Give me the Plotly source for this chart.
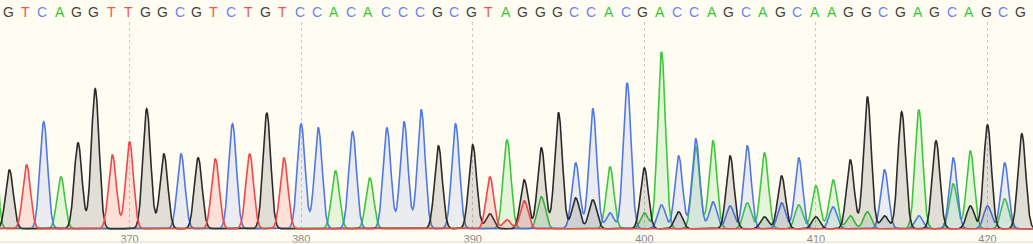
import numpy as np
import plotly.graph_objects as go

# Base positions and called bases (positions 363-422)
positions = list(range(362, 423))
bases = list("GTCAGGTTGGCGTCTGTCCACACCCGCGTAGGGCCACGACCAGCAGCAAGGCGAGCAGCG")
base_positions = list(range(363, 423))

# Peak heights per channel at each position 362..422
A_heights = [160, 0, 0, 0, 52, 0, 0, 0, 0, 0,        # 362-371
             0, 0, 0, 0, 0, 0, 0, 0, 0, 0,           # 372-381
             58, 0, 51, 0, 0, 0, 0, 0, 0, 0,         # 382-391
             89, 0, 32, 0, 0, 0, 62, 0, 16, 177,     # 392-401
             0, 82, 88, 0, 26, 76, 0, 24, 43, 49,    # 402-411
             13, 17, 0, 0, 119, 0, 45, 78, 0, 30,    # 412-421
             0]                                      # 422
C_heights = [0, 0, 0, 107, 0, 0, 0, 0, 0, 0,
             0, 75, 0, 0, 105, 0, 0, 0, 105, 101,
             0, 97, 0, 101, 107, 119, 0, 105, 0, 0,
             0, 0, 0, 0, 66, 120, 16, 146, 0, 24,
             73, 90, 27, 23, 83, 0, 26, 71, 0, 22,
             0, 0, 59, 0, 13, 0, 71, 0, 23, 66,
             0]
G_heights = [0, 59, 0, 0, 0, 86, 140, 0, 0, 120,
             75, 0, 71, 0, 0, 0, 116, 0, 0, 0,
             0, 0, 0, 0, 0, 0, 83, 0, 84, 15,
             0, 49, 81, 116, 31, 29, 0, 0, 61, 0,
             17, 0, 0, 73, 0, 12, 53, 0, 12, 0,
             69, 132, 13, 117, 0, 88, 0, 23, 104, 0,
             95]
T_heights = [0, 0, 64, 0, 0, 0, 0, 74, 87, 0,
             0, 0, 0, 70, 0, 75, 0, 71, 0, 0,
             0, 0, 0, 0, 0, 0, 0, 0, 0, 52,
             9, 28, 0, 0, 0, 0, 0, 0, 0, 0,
             0, 0, 0, 0, 0, 0, 0, 0, 0, 0,
             0, 0, 0, 0, 0, 0, 0, 0, 0, 0,
             0]

tick_values = [370, 380, 390, 400, 410, 420]

channels = [
    ("A", A_heights, "#3cc83c", "rgba(60,200,60,0.13)"),
    ("C", C_heights, "#5078e6", "rgba(80,120,230,0.12)"),
    ("G", G_heights, "#2a2a2a", "rgba(40,40,40,0.14)"),
    ("T", T_heights, "#f04848", "rgba(240,72,72,0.15)"),
]
letter_colors = {"A": "#33c833", "C": "#6a86f0", "G": "#444444", "T": "#f05555"}

sigma = 0.225
xs = np.arange(361.5, 423.6, 0.01)

fig = go.Figure()
for name, heights, lc, fc in channels:
    pos = np.array(positions, dtype=float)
    h = np.array(heights, dtype=float)
    ys = (h[None, :] * np.exp(-0.5 * ((xs[:, None] - pos[None, :]) / sigma) ** 2)).sum(axis=1)
    fig.add_trace(go.Scatter(x=xs, y=ys, mode="lines", line=dict(color=lc, width=1.6),
                             fill="tozeroy", fillcolor=fc, hoverinfo="skip", showlegend=False))

annotations = []
for p, b in zip(base_positions, bases):
    annotations.append(dict(x=p - 0.08, y=1.048, xref="x", yref="paper", text=b, showarrow=False,
                            font=dict(family="Liberation Sans, Arial, sans-serif", size=14,
                                      color=letter_colors[b]),
                            xanchor="center", yanchor="middle"))

fig.update_layout(
    width=1033, height=244,
    margin=dict(l=0, r=0, t=22, b=14),
    paper_bgcolor="#fffcf2", plot_bgcolor="#fffcf2",
    annotations=annotations,
    xaxis=dict(range=[362.45, 422.65], tickvals=tick_values, showgrid=True,
               gridcolor="#c8c8c8", griddash="dot", gridwidth=1, zeroline=False,
               showline=False, ticks="", tickfont=dict(family="Liberation Sans, Arial, sans-serif",
                                                       size=11, color="#888888"),
               ticklabelstandoff=1),
    yaxis=dict(range=[-1.2, 206.8], visible=False, showgrid=False, zeroline=False),
    shapes=[dict(type="line", xref="paper", yref="paper", x0=0, x1=1, y0=-0.058, y1=-0.058,
                 line=dict(color="#dcdcdc", width=1))],
)

fig.write_html("out.html")
